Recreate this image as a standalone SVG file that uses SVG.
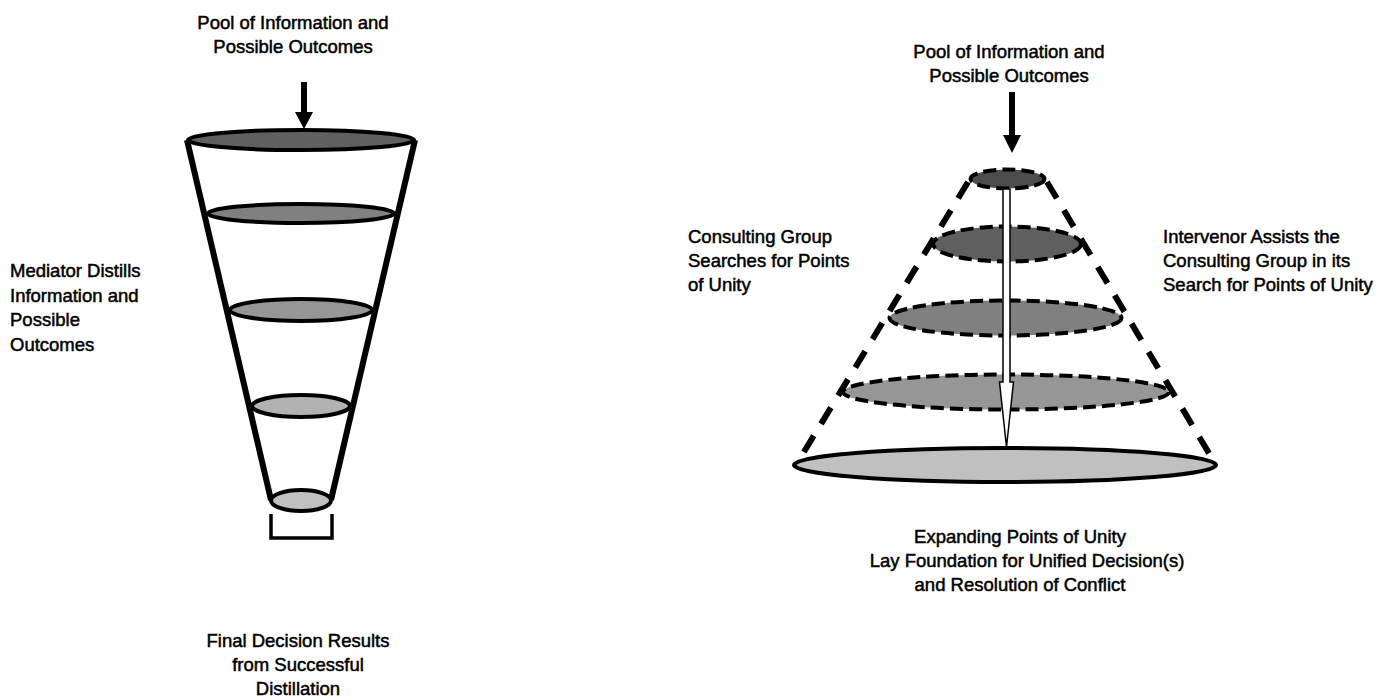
<svg xmlns="http://www.w3.org/2000/svg" width="1390" height="700" viewBox="0 0 1390 700">
  <defs>
    <style>
      text { font-family: "Liberation Sans", Arial, sans-serif; font-size: 18.5px; fill: #000; stroke: #000; stroke-width: 0.5; }
      .mid { text-anchor: middle; }
      .funnel-side { stroke: #000; stroke-width: 6; fill: none; stroke-linecap: butt; }
      .disc { stroke: #000; stroke-width: 4; }
      .cone-side { stroke: #000; stroke-width: 6; fill: none; stroke-dasharray: 19 14; }
      .layer { stroke: #000; stroke-width: 4; stroke-dasharray: 13 6; }
    </style>
  </defs>
  <rect width="1390" height="700" fill="#fff"/>

  <!-- Distillation funnel -->
  <g id="funnel">
    <line class="funnel-side" x1="187" y1="140" x2="271" y2="500"/>
    <line class="funnel-side" x1="415" y1="140" x2="331" y2="500"/>
    <ellipse class="disc" cx="301" cy="140" rx="113" ry="10" fill="#606060"/>
    <ellipse class="disc" cx="301" cy="213.5" rx="93" ry="9.5" fill="#808080"/>
    <ellipse class="disc" cx="301" cy="310" rx="71" ry="11" fill="#969696"/>
    <ellipse class="disc" cx="301" cy="406" rx="49" ry="11" fill="#b2b2b2"/>
    <ellipse class="disc" cx="301" cy="500.5" rx="30" ry="10.5" fill="#c0c0c0"/>
  </g>
  <g id="funnel-outlet">
    <polyline points="271,514 271,538 332,538 332,514" fill="none" stroke="#000" stroke-width="3.5"/>
  </g>

  <!-- Unity cone -->
  <g id="cone">
    <line class="cone-side" x1="968" y1="182" x2="796" y2="465"/>
    <line class="cone-side" x1="1047" y1="182" x2="1216" y2="465"/>
    <ellipse class="layer" cx="1007.5" cy="179" rx="37" ry="9.5" fill="#4d4d4d"/>
    <ellipse class="layer" cx="1007" cy="244" rx="74" ry="17.5" fill="#5f5f5f"/>
    <ellipse class="layer" cx="1005.5" cy="318" rx="116" ry="17.5" fill="#808080"/>
    <ellipse class="layer" cx="1006" cy="392" rx="163" ry="17.5" fill="#969696"/>
    <ellipse cx="1005" cy="465" rx="211" ry="17" fill="#c0c0c0" stroke="#000" stroke-width="4"/>
  </g>

  <!-- Connectors -->
  <g id="connectors">
    <line x1="304" y1="82" x2="304" y2="114" stroke="#000" stroke-width="6"/>
    <polygon points="295,112 313,112 304,129" fill="#000"/>
    <line x1="1012" y1="92" x2="1012" y2="137" stroke="#000" stroke-width="6"/>
    <polygon points="1003,135 1021,135 1012,153" fill="#000"/>
    <polygon points="1003,189 1010,189 1010,382 1013.5,382 1006.5,447 999.5,382 1003,382" fill="#fff" stroke="#000" stroke-width="1.5" stroke-linejoin="miter"/>
  </g>

  <!-- Labels -->
  <g id="label-pool-left">
    <text class="mid" x="293" y="29">Pool of Information and</text>
    <text class="mid" x="293" y="53">Possible Outcomes</text>
  </g>
  <g id="label-mediator">
    <text x="10" y="277">Mediator Distills</text>
    <text x="10" y="302">Information and</text>
    <text x="10" y="326">Possible</text>
    <text x="10" y="351">Outcomes</text>
  </g>
  <g id="label-final">
    <text class="mid" x="298" y="647">Final Decision Results</text>
    <text class="mid" x="298" y="671">from Successful</text>
    <text class="mid" x="298" y="695">Distillation</text>
  </g>
  <g id="label-pool-right">
    <text class="mid" x="1009" y="58">Pool of Information and</text>
    <text class="mid" x="1009" y="82">Possible Outcomes</text>
  </g>
  <g id="label-consulting">
    <text x="688" y="243">Consulting Group</text>
    <text x="688" y="267">Searches for Points</text>
    <text x="688" y="291">of Unity</text>
  </g>
  <g id="label-intervenor">
    <text x="1163" y="243">Intervenor Assists the</text>
    <text x="1163" y="267">Consulting Group in its</text>
    <text x="1163" y="291">Search for Points of Unity</text>
  </g>
  <g id="label-expanding">
    <text class="mid" x="1020" y="543">Expanding Points of Unity</text>
    <text class="mid" x="1027" y="567">Lay Foundation for Unified Decision(s)</text>
    <text class="mid" x="1020" y="591">and Resolution of Conflict</text>
  </g>
</svg>
